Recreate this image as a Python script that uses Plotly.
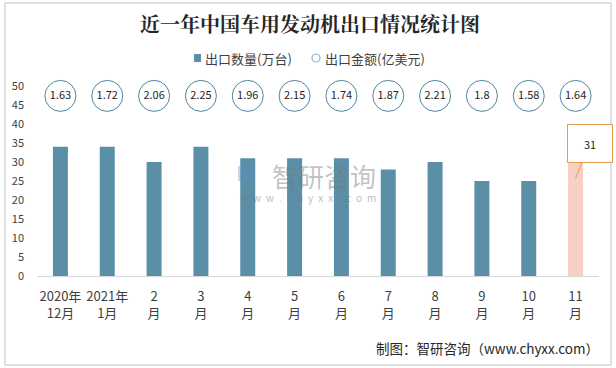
import plotly.graph_objects as go

categories = ["2020年<br>12月", "2021年<br>1月", "2<br>月", "3<br>月", "4<br>月", "5<br>月",
              "6<br>月", "7<br>月", "8<br>月", "9<br>月", "10<br>月", "11<br>月"]
qty = [34, 34, 30, 34, 31, 31, 31, 28, 30, 25, 25, 31]
amount = [1.63, 1.72, 2.06, 2.25, 1.96, 2.15, 1.74, 1.87, 2.21, 1.8, 1.58, 1.64]
yticks = [0, 5, 10, 15, 20, 25, 30, 35, 40, 45, 50]
legend_names = ["出口数量(万台)", "出口金额(亿美元)"]

W, H = 616, 368
L, R, T, B = 37, 17, 86, 92
PW, PH = W - L - R, H - T - B

FONT = "Noto Sans CJK SC, Microsoft YaHei, sans-serif"
BAR = "#5B8FA8"
HL = "#F8CFC4"
TXT = "#404040"

x_idx = list(range(len(categories)))
bar_colors = [BAR] * (len(qty) - 1) + [HL]

fig = go.Figure()
fig.add_trace(go.Bar(
    x=x_idx, y=qty, width=0.32, name=legend_names[0],
    marker=dict(color=bar_colors, line=dict(width=0)),
    showlegend=False, hoverinfo="skip"))
# amount circles
fig.add_trace(go.Scatter(
    x=x_idx, y=[47.4] * len(amount), mode="markers+text", name=legend_names[1],
    text=[f"{v:g}" for v in amount], textposition="middle center",
    textfont=dict(size=11, color="#262626", family=FONT),
    marker=dict(symbol="circle", size=31, color="white", line=dict(color="#4F86A0", width=1)),
    cliponaxis=False, showlegend=False, hoverinfo="skip"))

def px(x):
    return (x - L) / PW

def py(y):
    return 1 - (y - T) / PH

shapes = [
    # outer frame
    dict(type="rect", xref="paper", yref="paper",
         x0=px(5), x1=px(611), y0=py(365), y1=py(3),
         line=dict(color="#BFBFBF", width=1), fillcolor="rgba(0,0,0,0)", layer="below"),
    # watermark logo
    dict(type="rect", xref="paper", yref="paper",
         x0=px(238), x1=px(252), y0=py(181), y1=py(166),
         line=dict(width=0), fillcolor="rgba(91,143,190,0.35)", layer="above"),
    # legend symbols
    dict(type="rect", xref="paper", yref="paper",
         x0=px(194), x1=px(201), y0=py(62), y1=py(54),
         line=dict(width=0), fillcolor=BAR),
    dict(type="circle", xref="paper", yref="paper",
         x0=px(312), x1=px(320), y0=py(62), y1=py(54),
         line=dict(width=1.2, color="#8DB3C7"), fillcolor="white"),
]

annotations = [
    dict(text="<b>近一年中国车用发动机出口情况统计图</b>", xref="paper", yref="paper",
         x=px(310), y=py(24), xanchor="center", yanchor="middle", showarrow=False,
         font=dict(size=20, color="#262626", family="Noto Serif CJK SC, Noto Sans CJK SC, serif")),
    dict(text=legend_names[0], xref="paper", yref="paper", x=px(203), y=py(58),
         xanchor="left", yanchor="middle", showarrow=False,
         font=dict(size=13, color=TXT, family=FONT)),
    dict(text=legend_names[1], xref="paper", yref="paper", x=px(323), y=py(58),
         xanchor="left", yanchor="middle", showarrow=False,
         font=dict(size=13, color=TXT, family=FONT)),
    dict(text="制图：智研咨询（www.chyxx.com）", xref="paper", yref="paper",
         x=px(601), y=py(348), xanchor="right", yanchor="middle", showarrow=False,
         font=dict(size=13.5, color="#262626", family=FONT)),
    dict(text="智研咨询", xref="paper", yref="paper", x=px(270), y=py(175),
         xanchor="left", yanchor="middle",
         showarrow=False, font=dict(size=26, color="rgba(120,120,120,0.45)", family=FONT)),
    dict(text="\u2002".join("www.chyxx.com"), xref="paper", yref="paper", x=px(238), y=py(197),
         xanchor="left", yanchor="middle", showarrow=False,
         font=dict(size=10, color="rgba(120,120,120,0.5)", family=FONT)),
    dict(text=str(qty[-1]), x=x_idx[-1], y=qty[-1], yshift=-20, showarrow=True,
         arrowhead=0, arrowwidth=1, arrowcolor="#E39C50", ax=14, ay=-35,
         bordercolor="#E39C50", borderwidth=1, bgcolor="white", width=42, height=35,
         font=dict(size=11, color="#262626", family=FONT)),
]

fig.update_layout(
    width=W, height=H, margin=dict(l=L, r=R, t=T, b=B, autoexpand=False),
    paper_bgcolor="white", plot_bgcolor="white",
    font=dict(family=FONT, color=TXT),
    showlegend=False,
    xaxis=dict(tickmode="array", tickvals=x_idx, ticktext=categories, range=[-0.5, len(categories) - 0.5],
               showline=True, linecolor="#D9D9D9", linewidth=1, ticks="", showgrid=False,
               tickfont=dict(size=13, color=TXT), zeroline=False, automargin=False,
               ticklabelstandoff=8),
    yaxis=dict(range=[0, 50], tickvals=yticks, showgrid=False, zeroline=False, showline=False,
               tickfont=dict(size=11, color=TXT), ticklabelstandoff=12, automargin=False),
    shapes=shapes, annotations=annotations, bargap=0.68,
)

fig.write_html("out.html", config={"displayModeBar": False},
               post_script="document.body.style.margin='0';")
